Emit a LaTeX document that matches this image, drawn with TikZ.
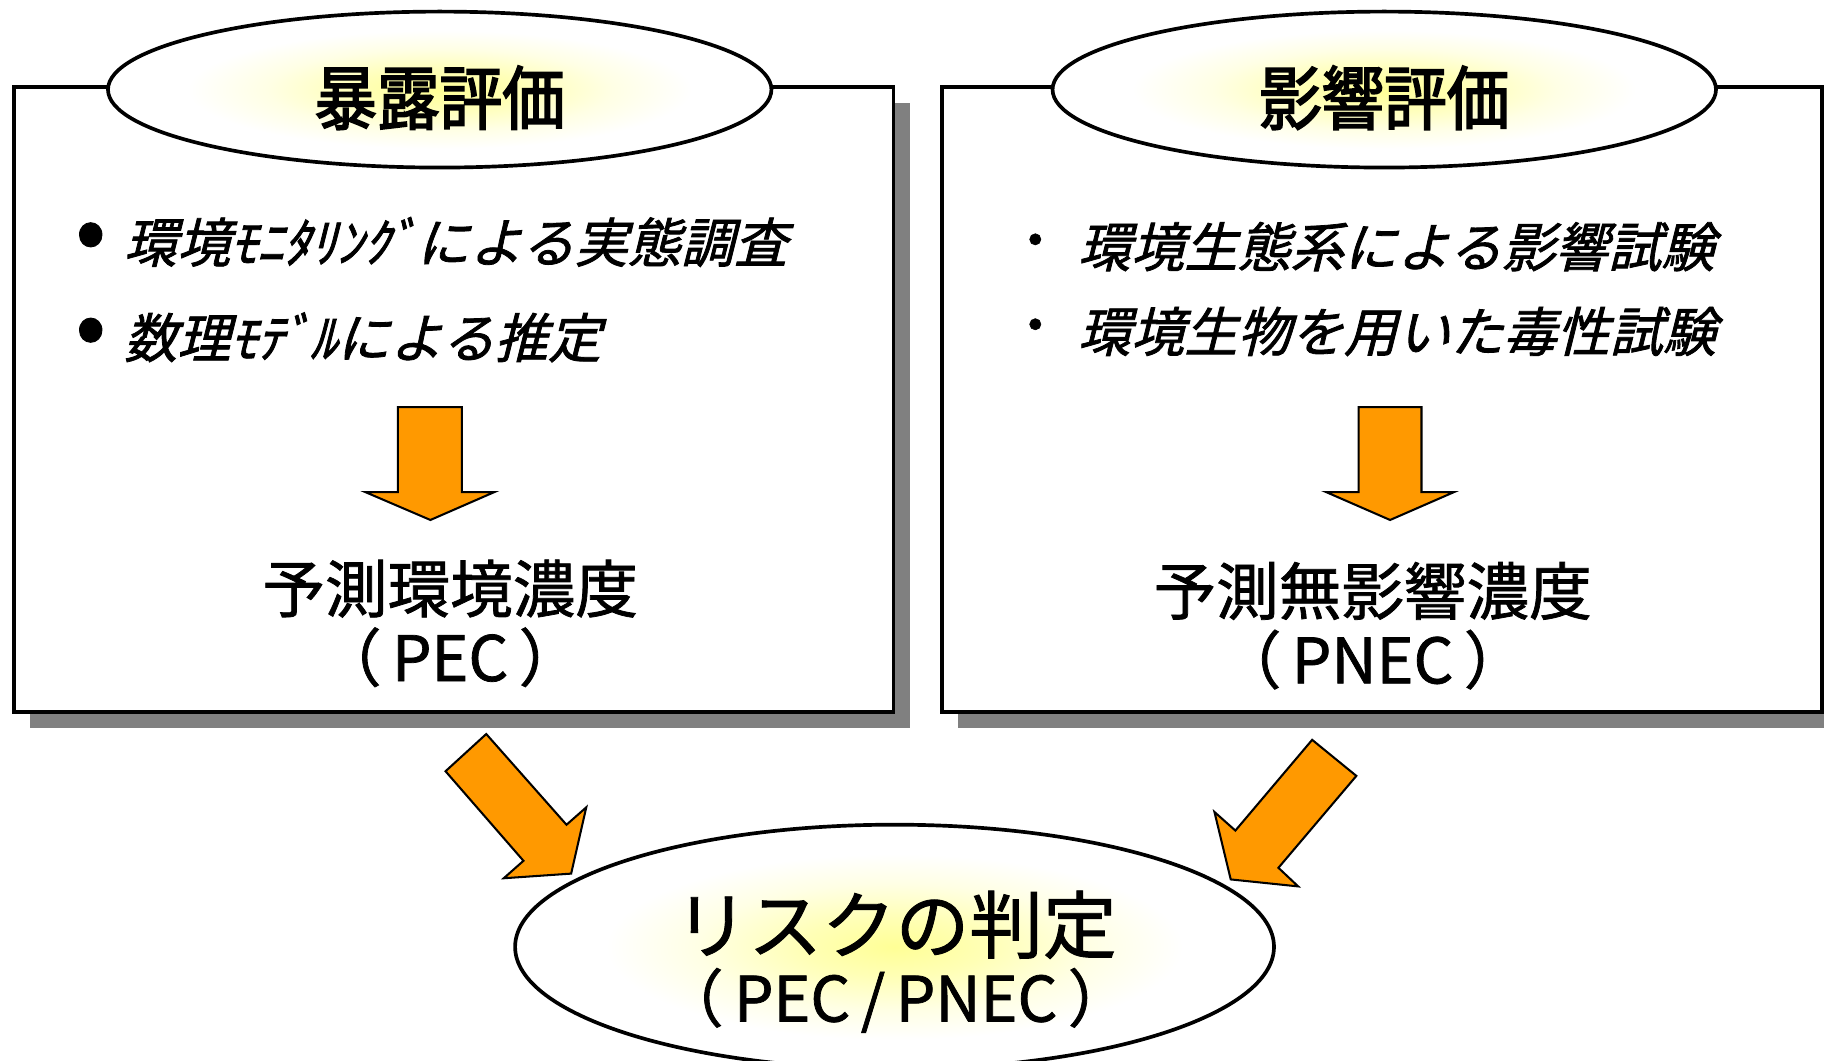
\documentclass[tikz,border=0pt]{standalone}
\usepackage{fontspec}
\newfontfamily\jp[FakeBold=1]{Noto Sans CJK JP}
\newfontfamily\jpbold[FakeBold=2.5,FakeStretch=0.9]{Noto Sans CJK JP}
\newfontfamily\jpmed[FakeBold=1.2]{Noto Sans CJK JP}
\newfontfamily\jpital[FakeSlant=0.25,FakeBold=1.5]{Noto Sans CJK JP}
\usetikzlibrary{shapes.geometric,shadows}
\definecolor{arroworange}{RGB}{255,153,0}
\definecolor{shadowgray}{RGB}{128,128,128}
\definecolor{glow}{RGB}{255,255,150}
\pgfdeclareradialshading{glowshade}{\pgfpoint{0bp}{0bp}}{color(0bp)=(glow); color(6bp)=(glow!70!white); color(13bp)=(glow!25!white); color(19bp)=(white); color(50bp)=(white)}
\begin{document}
\begin{tikzpicture}[x=0.01cm,y=-0.01cm,
 panel/.style={draw=black, line width=0.9pt, fill=white, minimum width=7.56cm, minimum height=5.37cm, inner sep=0pt,
   drop shadow={shadow xshift=0.14cm, shadow yshift=-0.14cm, fill=shadowgray, opacity=1}},
 titleell/.style={ellipse, draw=black, line width=0.9pt, shading=glowshade, inner sep=0pt},
 titletext/.style={font=\jpbold\fontsize{17}{20}\selectfont, inner sep=0pt},
 itemtext/.style={font=\jpital\fontsize{13}{16}\selectfont, anchor=west, inner sep=0pt},
 bigbul/.style={font=\jp\fontsize{22}{24}\selectfont, inner sep=0pt},
 bul/.style={font=\jp\fontsize{13}{16}\selectfont, inner sep=0pt},
 resulttext/.style={font=\jpmed\fontsize{15.3}{18}\selectfont, inner sep=0pt},
 risktext/.style={font=\jpmed\fontsize{18}{21}\selectfont, inner sep=0pt},
 blockarrow/.style={fill=arroworange, draw=black, line width=0.5pt, line join=miter}]
\useasboundingbox (0,0) rectangle (1568,912);
% panels
\node[panel] (boxL) at (390,343.5) {};
\node[panel] (boxR) at (1188,343.5) {};
% title ellipses
\node[titleell, minimum width=5.70cm, minimum height=1.34cm] (ellL) at (378,77) {};
\node[titletext] (tL) at (378,84) {暴露評価};
\node[titleell, minimum width=5.70cm, minimum height=1.34cm] (ellR) at (1190,77) {};
\node[titletext] (tR) at (1190,84) {影響評価};
% items
\node[bigbul] (bL1) at (78,208) {•};
\node[itemtext] (iL1) at (106,208) {環境ﾓﾆﾀﾘﾝｸﾞによる実態調査};
\node[bigbul] (bL2) at (78,290) {•};
\node[itemtext] (iL2) at (106,290) {数理ﾓﾃﾞﾙによる推定};
\node[bul] (bR1) at (890,212) {・};
\node[itemtext] (iR1) at (926,212) {環境生態系による影響試験};
\node[bul] (bR2) at (890,285) {・};
\node[itemtext] (iR2) at (926,285) {環境生物を用いた毒性試験};
% down arrows
\draw[blockarrow] (342,350) -- (397,350) -- (397,423) -- (425,423) -- (370,447) -- (314,423) -- (342,423) -- cycle;
\draw[blockarrow] (1168,350) -- (1222,350) -- (1222,423) -- (1250,423) -- (1195,447) -- (1140,423) -- (1168,423) -- cycle;
% results
\node[resulttext] (pec) at (387,506) {予測環境濃度};
\node[resulttext] (pecab) at (387,565) {（\,PEC\,）};
\node[resulttext] (pnec) at (1180,508) {予測無影響濃度};
\node[resulttext] (pnecab) at (1180,567) {（\,PNEC\,）};
% diagonal arrows
\draw[blockarrow] (418,631) -- (487,709) -- (504,694) -- (491,751) -- (433,755) -- (450,740) -- (383,663) -- cycle;
\draw[blockarrow] (1128,636) -- (1062,714) -- (1044,698) -- (1058,756) -- (1116,762) -- (1099,746) -- (1166,667) -- cycle;
% bottom ellipse
\node[titleell, minimum width=6.52cm, minimum height=2.10cm] (ellB) at (769,814) {};
\node[risktext] (risk) at (770,795) {リスクの判定};
\node[resulttext] (ratio) at (770,860) {（\,PEC\,/\,PNEC\,）};
\end{tikzpicture}
\end{document}
